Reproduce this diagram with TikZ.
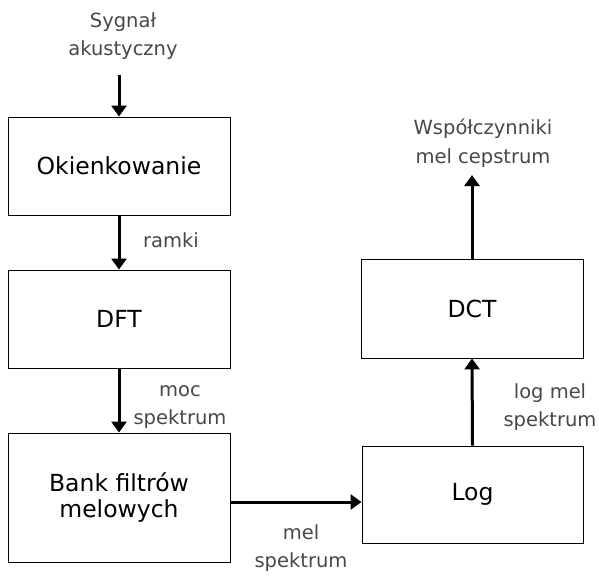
\documentclass[tikz,border=0pt]{standalone}
\usepackage{fontspec}
\setmainfont{DejaVu Sans}
\usetikzlibrary{arrows.meta}
\begin{document}
\begin{tikzpicture}[x=1pt,y=-1pt,
  block/.style={draw=black,line width=0.9pt,minimum width=222pt,inner sep=0pt,
    font=\fontsize{23.5}{26}\selectfont,align=center,text=black},
  lbl/.style={font=\fontsize{19.5}{28.5}\selectfont,align=center,text=black!72,inner sep=0pt},
  flow/.style={line width=3pt,-{Triangle[width=15pt,length=11pt]}}]
\useasboundingbox (0,0) rectangle (599,575);
% processing blocks
\node[block,minimum height=98pt]  (okno) at (119,166)   {Okienkowanie};
\node[block,minimum height=98pt]  (dft)  at (119,319)   {DFT};
\node[block,minimum height=129pt] (bank) at (119,497.5) {Bank filtrów\\melowych};
\node[block,minimum height=97pt,minimum width=221pt] (log) at (472.5,494.5) {Log};
\node[block,minimum height=99pt]  (dct)  at (472,308.5) {DCT};
% free ends of the input and output arrows
\coordinate (in)  at (119,75);
\coordinate (out) at (472,175);
\coordinate (bankout) at (230,502);
% labels
\node[lbl] (sygnal) at (123,36)  {Sygnał\\akustyczny};
\node[lbl] (ramki)  at (171,240) {ramki};
\node[lbl] (moc)    at (180,407) {moc\\spektrum};
\node[lbl] (mel)    at (301,548) {mel\\spektrum};
\node[lbl] (logmel) at (550,407) {log mel\\spektrum};
\node[lbl] (wsp)    at (483,143) {Współczynniki\\mel cepstrum};
% connectors
\draw[flow] (in) -- (okno.north);
\draw[flow] (okno.south) -- (dft.north);
\draw[flow] (dft.south) -- (bank.north);
\draw[flow] (bankout) -- (log.west |- bankout);
\draw[flow] (log.north) -- (dct.south);
\draw[flow] (dct.north) -- (out);
\end{tikzpicture}
\end{document}
